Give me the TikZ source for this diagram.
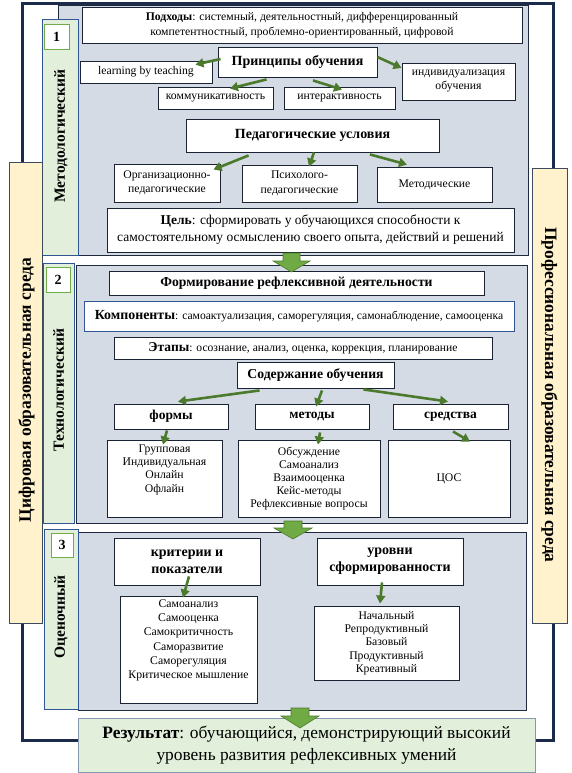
\documentclass[tikz,border=0pt]{standalone}
\usepackage{fontspec}
\setmainfont{Liberation Serif}
\usetikzlibrary{arrows.meta,calc}
\definecolor{navy}{HTML}{1C2B4B}
\definecolor{panelfill}{HTML}{D5DBE5}
\definecolor{panelline}{HTML}{1F2A3C}
\definecolor{stripfill}{HTML}{E2EFDA}
\definecolor{stripline}{HTML}{2F5597}
\definecolor{numline}{HTML}{70AD47}
\definecolor{yelfill}{HTML}{FFF2CC}
\definecolor{yelline}{HTML}{3B4A5C}
\definecolor{boxline}{HTML}{1A2233}
\definecolor{agreen}{HTML}{4B7A2C}
\definecolor{bgreen}{HTML}{6FAA44}
\definecolor{resline}{HTML}{8497B0}
\newcommand\myfs[2]{\fontsize{#1}{#2}\selectfont}
\begin{document}
\begin{tikzpicture}[x=1pt,y=-1pt,
  box/.style={draw=boxline, line width=0.9pt, fill=white, inner sep=1pt, align=center},
  garrow/.style={draw=agreen, line width=2.6pt, -{Triangle[length=8pt,width=9pt]}},
  panel/.style={draw=panelline, line width=1pt, fill=panelfill},
  strip/.style={draw=stripline, line width=0.8pt, fill=stripfill},
  numbox/.style={draw=numline, line width=0.9pt, fill=white, font=\myfs{14}{16}\bfseries},
  yelbar/.style={draw=yelline, line width=0.8pt, fill=yelfill},
  barlabel/.style={font=\myfs{17.4}{20}\bfseries},
  striplabel/.style={rotate=90, font=\myfs{15.5}{17}\bfseries},
  blockarrow/.style={fill=bgreen, draw=agreen, line width=0.6pt}
]
\useasboundingbox (0,0) rectangle (572,773);
\fill[white] (0,0) rectangle (572,773);

% outer frame
\draw[navy, line width=3pt] (22,4) rectangle (553,740);

% panels
\draw[panel] (58,6) rectangle (528,255);
\draw[panel] (76,265) rectangle (527,523);
\draw[panel] (78,532) rectangle (526,710);

% strips
\draw[strip] (42,19) rectangle (78,255);
\draw[strip] (43,263) rectangle (74,523);
\draw[strip] (44,529) rectangle (78,709);
\node[numbox, minimum width=25pt, minimum height=25pt, inner sep=0pt] (n1) at (56.5,36.5) {1};
\node[numbox, minimum width=24pt, minimum height=25pt, inner sep=0pt] (n2) at (58,279.5) {2};
\node[numbox, minimum width=22pt, minimum height=24pt, inner sep=0pt] (n3) at (62,545) {3};
\node[striplabel] (s1) at (61,136) {Методологический};
\node[striplabel] (s2) at (58.5,390) {Технологический};
\node[striplabel] (s3) at (61,617) {Оценочный};

% yellow bars
\draw[yelbar] (9,162) rectangle (42,623);
\draw[yelbar] (532,168) rectangle (567,623);
\node[barlabel, rotate=90] (lbar) at (26.5,390) {Цифровая образовательная среда};
\node[barlabel, rotate=-90] (rbar) at (549.5,395) {Профессиональная образовательная среда};

% ---------- section 1
\node[box, minimum width=440pt, minimum height=36pt, font=\myfs{11.7}{15}] (podh) at (302,25)
  {\textbf{Подходы}: системный, деятельностный, дифференцированный\\ компетентностный, проблемно-ориентированный, цифровой};
\node[box, minimum width=159pt, minimum height=30pt, font=\myfs{14}{16}\bfseries] (princ) at (297.5,62) {Принципы обучения};
\node[box, minimum width=132pt, minimum height=22pt, font=\myfs{11.7}{13}] (lbt) at (146,72) {learning by teaching};
\node[box, minimum width=115pt, minimum height=22pt, font=\myfs{11.7}{13}] (komm) at (215.5,98) {коммуникативность};
\node[box, minimum width=111pt, minimum height=22pt, font=\myfs{11.7}{13}] (inter) at (339.5,98) {интерактивность};
\node[box, minimum width=113pt, minimum height=37pt, font=\myfs{11.7}{14}] (indiv) at (458.5,81.5) {индивидуализация\\обучения};
\node[box, minimum width=253pt, minimum height=33pt, font=\myfs{14}{16}\bfseries] (pedusl) at (312.5,135.5) {Педагогические условия};
\node[box, minimum width=106pt, minimum height=38pt, font=\myfs{11.7}{14.5}] (org) at (167,183) {Организационно-\\педагогические};
\node[box, minimum width=115pt, minimum height=37pt, font=\myfs{11.7}{14.5}] (psych) at (299.5,183.5) {Психолого-\\педагогические};
\node[box, minimum width=115pt, minimum height=35pt, font=\myfs{11.7}{14}] (metod) at (434.5,184.5) {Методические};
\node[box, minimum width=407pt, minimum height=44pt, font=\myfs{13.5}{17}] (goal) at (310.5,230)
  {\textbf{Цель}: сформировать у обучающихся способности к\\самостоятельному осмыслению своего опыта, действий и решений};

\draw[garrow] ($(princ.west)+(3,-3)$) -- ($(lbt.north east)+(-17,4)$);
\draw[garrow] ($(princ.south west)+(49,2)$) -- ($(komm.north)+(14.5,2)$);
\draw[garrow] ($(princ.south)+(15.5,3)$) -- ($(inter.north)+(2.5,3)$);
\draw[garrow] ($(princ.east)+(0,-5)$) -- ($(indiv.west)+(0,-13.5)$);
\draw[garrow] ($(pedusl.south west)+(63,3)$) -- ($(org.north east)+(-7,6)$);
\draw[garrow] ($(pedusl.south)+(1.5,0)$) -- ($(psych.north)+(9.5,2)$);
\draw[garrow] ($(pedusl.south)+(57.5,2)$) -- ($(metod.north)+(-27.5,-2)$);

% ---------- section 2
\node[box, minimum width=375pt, minimum height=24pt, font=\myfs{13.7}{15}\bfseries] (form) at (296.5,283) {Формирование рефлексивной деятельности};
\node[box, draw=stripline, minimum width=430pt, minimum height=30pt, font=\myfs{11.6}{13}] (komp) at (299,316)
  {{\myfs{13.9}{15}\bfseries Компоненты}: самоактуализация, саморегуляция, самонаблюдение, самооценка};
\node[box, minimum width=378pt, minimum height=22pt, font=\myfs{11.6}{13}] (etap) at (303,348)
  {{\myfs{13.5}{14}\bfseries Этапы}: осознание, анализ, оценка, коррекция, планирование};
\node[box, minimum width=157pt, minimum height=26pt, font=\myfs{13.7}{15}\bfseries] (soder) at (315.5,375) {Содержание обучения};
\node[box, minimum width=114pt, minimum height=25pt, font=\myfs{13.5}{15}\bfseries] (formy) at (171,416.5) {формы};
\node[box, minimum width=114pt, minimum height=25pt, font=\myfs{13.5}{15}\bfseries] (metody) at (312,416.5) {методы};
\node[box, minimum width=115pt, minimum height=25pt, font=\myfs{13.5}{15}\bfseries] (sredstva) at (450.5,416.5) {средства};
\node[box, minimum width=115pt, minimum height=77pt] (l1) at (164.5,478.5) {};
\node[font=\myfs{11.7}{13.2}, align=center, anchor=north, inner sep=0pt] (l1t) at ($(l1.north)+(0,5)$) {Групповая\\Индивидуальная\\Онлайн\\Офлайн};
\node[box, minimum width=142pt, minimum height=77pt, font=\myfs{11.7}{13.1}] (l2) at (309,478.5)
  {Обсуждение\\Самоанализ\\Взаимооценка\\Кейс-методы\\Рефлексивные вопросы};
\node[box, minimum width=122pt, minimum height=77pt, font=\myfs{11.7}{13}] (l3) at (449,478.5) {ЦОС};

\draw[garrow] ($(soder.south west)+(23,2)$) -- ($(formy.north)+(7,-2)$);
\draw[garrow] ($(soder.south)+(6.5,2)$) -- ($(metody.north)+(4,3)$);
\draw[garrow] ($(soder.south east)+(-31,1)$) -- ($(sredstva.north)+(-2.5,-2)$);
\draw[garrow] ($(formy.south)+(-4,1)$) -- ($(l1.north)+(-1.5,5)$);
\draw[garrow] ($(metody.south)+(8,3)$) -- ($(l2.north)+(9,5)$);
\draw[garrow] ($(sredstva.south)+(2.5,2)$) -- ($(l3.north)+(21,2)$);

% ---------- section 3
\node[box, minimum width=146pt, minimum height=47pt, font=\myfs{14}{17}\bfseries] (krit) at (187,561.5) {критерии и\\показатели};
\node[box, minimum width=137pt, minimum height=107pt] (klist) at (188.5,649.5) {};
\node[font=\myfs{11.7}{14.2}, align=center, anchor=north, inner sep=0pt] (klistt) at ($(klist.north)+(0,4)$)
  {Самоанализ\\Самооценка\\Самокритичность\\Саморазвитие\\Саморегуляция\\Критическое мышление};
\node[box, minimum width=146pt, minimum height=47pt, font=\myfs{14}{17}\bfseries] (urov) at (390,561.5) {уровни\\сформированности};
\node[box, minimum width=145pt, minimum height=74pt, font=\myfs{11.7}{13.3}] (ulist) at (386.5,643)
  {Начальный\\Репродуктивный\\Базовый\\Продуктивный\\Креативный};

\draw[garrow] ($(krit.south)+(2,-9)$) -- ($(klist.north)+(-5.5,2)$);
\draw[garrow] ($(urov.south)+(-8,-3)$) -- ($(ulist.north)+(-6.5,-2)$);

% ---------- result
\node[box, draw=resline, fill=stripfill, line width=0.8pt, minimum width=457pt, minimum height=54pt, font=\myfs{17.4}{22}] (res) at (306.5,745)
  {\textbf{Результат}: обучающийся, демонстрирующий высокий\\уровень развития рефлексивных умений};

% ---------- block arrows between stages
\draw[blockarrow] (283,253) -- (300,253) -- (300,261) -- (310,261) -- (291.5,272) -- (273,261) -- (283,261) -- cycle;
\draw[blockarrow] (284,521) -- (302,521) -- (302,528) -- (312,528) -- (293,539) -- (274,528) -- (284,528) -- cycle;
\draw[blockarrow] (291,708) -- (309,708) -- (309,716) -- (319,716) -- (300,728) -- (281,716) -- (291,716) -- cycle;
\end{tikzpicture}
\end{document}
